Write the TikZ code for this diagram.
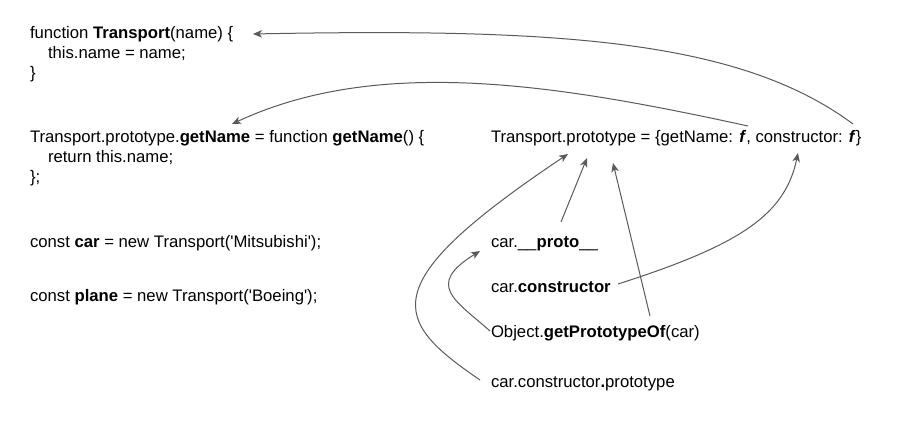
\documentclass[tikz,border=0pt]{standalone}
\usepackage{fontspec}
\setmainfont{Liberation Sans}
\usetikzlibrary{arrows.meta,calc}
\definecolor{lineg}{HTML}{5A5A5A}
\begin{document}
\begin{tikzpicture}[x=1pt,y=-1pt,
  code/.style={anchor=base west,inner sep=0pt,outer sep=0pt,font=\fontsize{16.7}{20}\selectfont},
  arr/.style={draw=lineg,line width=1pt,-{Stealth[length=9pt,width=7.5pt,inset=2.5pt]}}]
\useasboundingbox[fill=white] (0,0) rectangle (910,435);
% left code
\node[code] (t1) at (30,39) {function \textbf{Transport}(name) \{};
\node[code] (t2) at (48,59) {this.name = name;};
\node[code] (t3) at (30,79) {\}};
\node[code] (g1) at (30,143) {Transport.prototype.\textbf{getName} = function \textbf{getName}() \{};
\node[code] (g2) at (48,163) {return this.name;};
\node[code] (g3) at (30,183) {\};};
\node[code] (car) at (30,248) {const \textbf{car} = new Transport(\textquotesingle Mitsubishi\textquotesingle);};
\node[code] (plane) at (30,302) {const \textbf{plane} = new Transport(\textquotesingle Boeing\textquotesingle);};
% right
\node[code] (proto) at (491,143) {Transport.prototype = \{getName: \textbf{\textit{f}}, constructor: \textbf{\textit{f}}\}};
\node[code] (cp) at (491,248) {car.\_\_\textbf{proto}\_\_};
\node[code] (cc) at (491,293) {car.\textbf{constructor}};
\node[code] (gp) at (491,338) {Object.\textbf{getPrototypeOf}(car)};
\node[code] (ccp) at (491,388) {car.constructor\textbf{.}prototype};
% connectors
\draw[arr] ($(proto.base west)+(362,-19)$) .. controls (740,40) and (560,28) .. ($(t1.base west)+(223,-5)$);
\draw[arr] ($(proto.base west)+(257,-17)$) .. controls (560,85) and (380,55) .. ($(g1.base west)+(202,-19)$);
\draw[arr] ($(cp.base west)+(70,-26)$) -- ($(proto.base west)+(96,15)$);
\draw[arr] ($(gp.base west)+(159,-22)$) -- ($(proto.base west)+(122,20)$);
\draw[arr] ($(ccp.base west)+(-11,-8)$) .. controls (392,320) and (372,285) .. ($(proto.base west)+(77,11)$);
\draw[arr] ($(gp.base west)+(-1,-7)$) .. controls (455,300) and (425,285) .. ($(cp.base west)+(-11,3)$);
\draw[arr] ($(cc.base west)+(127,-9)$) .. controls (740,245) and (785,215) .. ($(proto.base west)+(307,10)$);
\end{tikzpicture}
\end{document}
